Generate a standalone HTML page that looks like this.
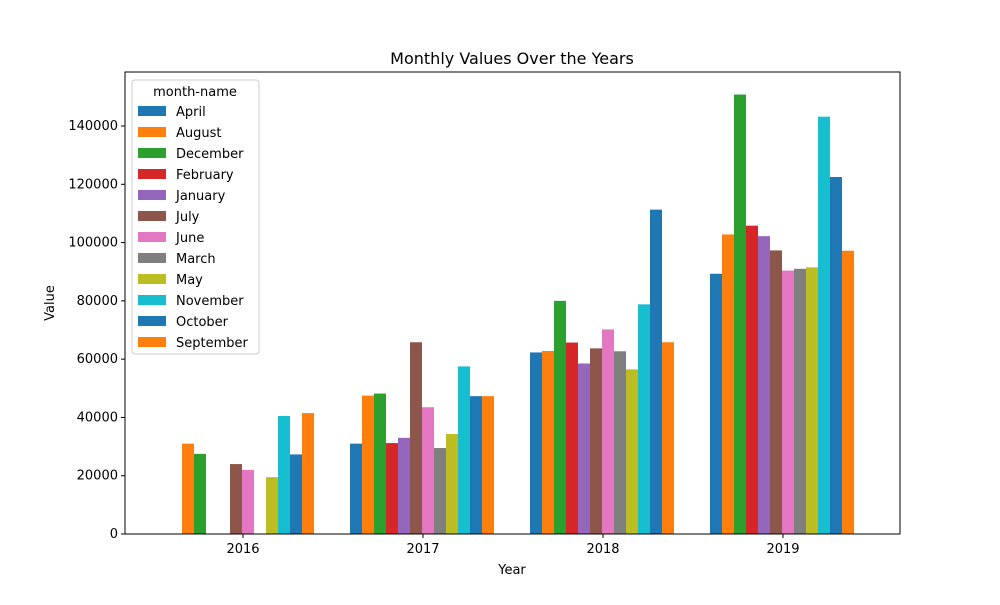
<!DOCTYPE html>
<html><head><meta charset="utf-8"><style>
body{margin:0;background:#fff;font-family:"Liberation Sans","DejaVu Sans",sans-serif;}
svg text{font-family:"DejaVu Sans","Liberation Sans",sans-serif;}
</style></head><body>
<svg id="chart" width="1000" height="600" xmlns="http://www.w3.org/2000/svg">
<rect width="1000" height="600" fill="#fff"/>
<text x="512" y="64" text-anchor="middle" font-size="16">Monthly Values Over the Years</text>
<g id="bars"></g>
<g id="axes"></g>
<g id="legend"></g>
</svg>
<script>
const years = ["2016","2017","2018","2019"];
const months = ["April","August","December","February","January","July","June","March","May","November","October","September"];
const colors = ["#1f77b4","#ff7f0e","#2ca02c","#d62728","#9467bd","#8c564b","#e377c2","#7f7f7f","#bcbd22","#17becf","#1f77b4","#ff7f0e"];
const v2016 = [0,31000,27500,0,0,24000,22000,0,19500,40500,27300,41500];
const v2017 = [31000,47500,48200,31200,33000,65800,43500,29500,34300,57500,47300,47300];
const v2018 = [62300,62800,80000,65700,58500,63700,70200,62700,56500,78800,111300,65800];
const v2019 = [89300,102800,150800,105800,102200,97300,90400,91000,91500,143200,122500,97200];
const yTicks = [0,20000,40000,60000,80000,100000,120000,140000];
const series = [v2016,v2017,v2018,v2019];

const NS="http://www.w3.org/2000/svg";
const L=125,R=900,T=72,B=534;
function yS(v){return B-v*(B-126)/140000;}
function xS(i){return 242+i*180;}
function mk(tag,attrs,parent){const e=document.createElementNS(NS,tag);for(const k in attrs)e.setAttribute(k,attrs[k]);parent.appendChild(e);return e;}
const bars=document.getElementById('bars'),axes=document.getElementById('axes'),leg=document.getElementById('legend');
const bw=12;
series.forEach((vals,yi)=>{
  vals.forEach((v,mi)=>{
    if(!v)return;
    const x=xS(yi)-72+mi*bw;
    const r=mk('rect',{x:x,y:yS(v),width:bw,height:B-yS(v),fill:colors[mi]},bars);
    
    
  });
});
const frame=mk('rect',{x:L,y:T,width:R-L,height:B-T,fill:'none',stroke:'#000','stroke-width':1},axes);


yTicks.forEach(t=>{
  const y=yS(t);
  mk('line',{x1:L-4,x2:L,y1:y,y2:y,stroke:'#000'},axes);
  const tx=mk('text',{x:L-7,y:y+4,'text-anchor':'end','font-size':13},axes);
  tx.textContent=t;
  
  
});
years.forEach((yr,i)=>{
  const x=xS(i)+1;
  mk('line',{x1:x,x2:x,y1:B,y2:B+4,stroke:'#000'},axes);
  const tx=mk('text',{x:x,y:B+19,'text-anchor':'middle','font-size':13},axes);
  tx.textContent=yr;
  
  
});
const xl=mk('text',{x:512,y:574,'text-anchor':'middle','font-size':13},axes);xl.textContent='Year';


const yl=mk('text',{x:54,y:303,'text-anchor':'middle','font-size':13,transform:'rotate(-90 54 303)'},axes);yl.textContent='Value';


const lb=mk('rect',{x:132,y:80,width:127,height:274,fill:'#fff','fill-opacity':0.8,stroke:'#ccc',rx:3},leg);


const lt=mk('text',{x:195,y:96,'text-anchor':'middle','font-size':13},leg);lt.textContent='month-name';


months.forEach((m,i)=>{
  const y=111+i*21;
  mk('rect',{x:138,y:y-5,width:28,height:10,fill:colors[i]},leg);
  const t=mk('text',{x:176,y:y+5,'font-size':13},leg);t.textContent=m;
  
  
});
</script>
</body></html>
